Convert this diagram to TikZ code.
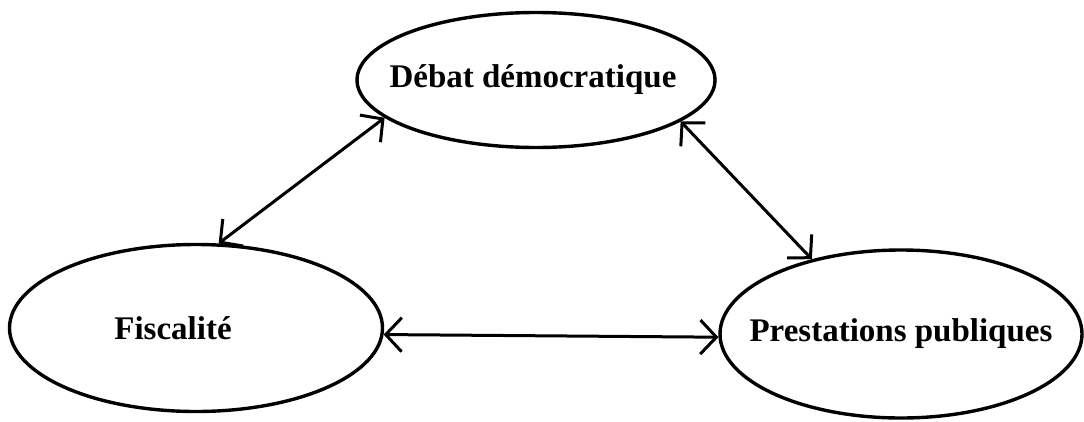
\documentclass[tikz,border=0pt]{standalone}
\usepackage{fontspec}
\setmainfont{Liberation Serif}
\usetikzlibrary{shapes.geometric,arrows.meta}
\begin{document}
\begin{tikzpicture}[x=1pt,y=-1pt,
  oval/.style={draw, ellipse, line width=3.4pt, inner sep=0pt,
    font=\bfseries\fontsize{33}{38}\selectfont},
  link/.style={line width=3pt, {Straight Barb[length=16pt,width=34pt,line width=3pt]}-{Straight Barb[length=16pt,width=34pt,line width=3pt]}}]
\useasboundingbox (0,0) rectangle (1084,421);
\node[oval, minimum width=358pt, minimum height=135pt] (deb) at (536,80) {\makebox[0pt]{\hspace*{-6pt}Débat démocratique}};
\node[oval, minimum width=373pt, minimum height=167pt] (fis) at (196,328) {\makebox[0pt]{\hspace*{-46pt}Fiscalité}};
\node[oval, minimum width=362pt, minimum height=168pt] (pre) at (901,334) {\makebox[0pt]{Prestations publiques}};
\draw[link] (fis.75) -- (deb.194);
\draw[link] (deb.-16) -- (pre.140);
\draw[link] (fis.-2) -- (pre.181);
\end{tikzpicture}
\end{document}
